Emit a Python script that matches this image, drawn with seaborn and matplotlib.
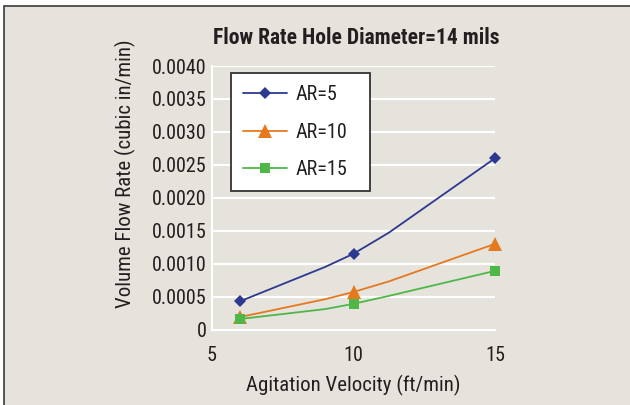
import matplotlib
matplotlib.use("Agg")
import matplotlib.pyplot as plt
import seaborn as sns
import pandas as pd
from matplotlib.patches import Rectangle

# ---------- data ----------
velocity = [6, 9, 10, 11.25, 15]          # ft/min (9 and 11.25 are bends of the smoothed curve)
measured_idx = [0, 2, 4]                  # points that carry a marker
ar5 = [0.00043, 0.00095, 0.00115, 0.00147, 0.00260]
ar10 = [0.00019, 0.00046, 0.00057, 0.00073, 0.00130]
ar15 = [0.00016, 0.00031, 0.00039, 0.00051, 0.00089]
series_labels = ["AR=5", "AR=10", "AR=15"]
y_ticks = [0, 0.0005, 0.0010, 0.0015, 0.0020, 0.0025, 0.0030, 0.0035, 0.0040]
y_tick_labels = ["0", "0.0005", "0.0010", "0.0015", "0.0020", "0.0025", "0.0030", "0.0035", "0.0040"]
x_ticks = [5, 10, 15]

BG = "#E6E2DC"
TXT = "#231F20"
colors = ["#2B3990", "#E5791F", "#4DB848"]
markers = ["D", "^", "s"]
msizes = [6.5, 10, 7]

sns.set_theme(style="white")
plt.rcParams["font.family"] = ["Roboto Condensed", "DejaVu Sans"]
plt.rcParams["text.color"] = TXT
plt.rcParams["xtick.color"] = "white"
plt.rcParams["ytick.color"] = "white"
plt.rcParams["xtick.labelcolor"] = TXT
plt.rcParams["ytick.labelcolor"] = TXT

fig = plt.figure(figsize=(6.3, 4.05), dpi=100, facecolor="white")
fig.patches.append(Rectangle((3.5 / 630, -0.1), 1.2, (405 - 5.5) / 405 + 0.1,
                             transform=fig.transFigure, facecolor=BG,
                             edgecolor="#3A3A3A", lw=1.2, zorder=-10))

ax = fig.add_axes([212 / 630, 1 - 329.5 / 405, (495 - 212) / 630, (329.5 - 66) / 405])
ax.set_facecolor(BG)

df = pd.DataFrame({"v": velocity, "AR=5": ar5, "AR=10": ar10, "AR=15": ar15})
for lab, c, m, ms in zip(series_labels, colors, markers, msizes):
    sns.lineplot(data=df, x="v", y=lab, ax=ax, color=c, marker=m, markersize=ms,
                 markevery=measured_idx, markeredgewidth=0, lw=1.3, label=lab,
                 clip_on=False, zorder=3)

ax.set_xlim(5, 15)
ax.set_ylim(0, 0.004)
ax.set_xticks(x_ticks)
ax.set_xticklabels([str(t) for t in x_ticks], fontsize=14.5)
ax.set_yticks(y_ticks)
ax.set_yticklabels(y_tick_labels, fontsize=14.5)
ax.grid(axis="y", color="white", lw=1.6)
ax.set_axisbelow(True)
ax.tick_params(axis="x", length=5, width=1.5, direction="out", pad=7)
ax.tick_params(axis="y", length=3, width=1.5, direction="out", pad=1)
for s in ["top", "right"]:
    ax.spines[s].set_visible(False)
ax.spines["left"].set_color("white")
ax.spines["bottom"].set_color("white")
ax.spines["left"].set_linewidth(1.5)
ax.spines["bottom"].set_linewidth(1.5)
ax.set_xlabel("")
ax.set_ylabel("")

# legend box spans x 231..370 px, top at y 74 px
lx0 = (231 - 212) / 283
lw_ = (370 - 231) / 283
ly1 = (329.5 - 73) / 263.5
leg = ax.legend(loc="upper left", bbox_to_anchor=(lx0, ly1 - 0.5, lw_, 0.5), mode="expand",
                fontsize=14.5, frameon=True, fancybox=False, handlelength=2.2,
                labelspacing=0.92, borderpad=0.6, handletextpad=0.4, borderaxespad=0)
leg.get_frame().set_facecolor("white")
leg.get_frame().set_edgecolor("#333333")
leg.get_frame().set_linewidth(1.3)
leg.get_frame().set_alpha(1)

fig.text(356 / 630, 1 - 38 / 405, "Flow Rate Hole Diameter=14 mils", ha="center", va="center",
         fontsize=15.5, fontweight="bold")
fig.text(353 / 630, 1 - 385 / 405, "Agitation Velocity (ft/min)", ha="center", va="center",
         fontsize=15)
fig.text(125 / 630, 1 - 174 / 405, "Volume Flow Rate (cubic in/min)", ha="center", va="center",
         rotation=90, fontsize=15)

fig.savefig("out.png", dpi=100, facecolor="white")
